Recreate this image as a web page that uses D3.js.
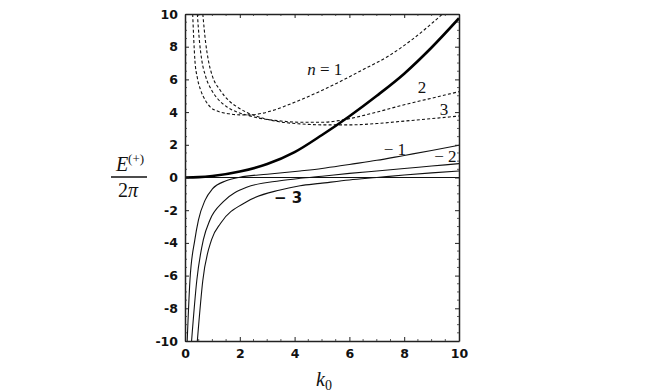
<!DOCTYPE html>
<html>
<head>
<meta charset="utf-8">
<script src="https://cdn.jsdelivr.net/npm/d3@7"></script>
<style>
  body { margin: 0; background: #fff; }
  svg { display: block; }
</style>
</head>
<body>
<div id="chart"></div>
<script>
// axis ticks
const xTicks = [0, 2, 4, 6, 8, 10];
const yTicks = [-10, -8, -6, -4, -2, 0, 2, 4, 6, 8, 10];

// thick curve
const kThick = [0, 0.5, 1, 2, 3, 4, 5, 6, 7, 8, 9, 10];
const eThick = [0, 0.02, 0.09, 0.37, 0.82, 1.55, 2.6, 3.75, 5.0, 6.35, 7.95, 9.74];

// dashed curves n = 1, 2, 3
const kN1 = [0.28, 0.36, 0.45, 0.57, 0.75, 0.91, 1.2, 1.6, 2.0, 2.4, 2.8, 3.2, 4.0, 4.9, 5.7, 6.5, 7.4, 8.3, 9.4];
const eN1 = [10, 7.2, 6.1, 5.35, 4.7, 4.33, 4.05, 3.9, 3.83, 3.83, 3.92, 4.1, 4.6, 5.25, 5.9, 6.6, 7.4, 8.45, 10];
const kN2 = [0.45, 0.53, 0.61, 0.75, 0.97, 1.2, 1.52, 1.9, 2.3, 2.8, 3.4, 4.2, 5.0, 6.0, 7.0, 8.0, 9.0, 10];
const eN2 = [10, 8.3, 7.2, 6.2, 5.35, 4.8, 4.33, 4.0, 3.8, 3.6, 3.47, 3.38, 3.38, 3.6, 4.0, 4.45, 4.85, 5.25];
const kN3 = [0.65, 0.75, 0.85, 1.0, 1.28, 1.6, 1.89, 2.3, 2.8, 3.4, 4.2, 5.0, 6.0, 7.0, 8.0, 9.0, 10];
const eN3 = [10, 8.3, 7.19, 6.2, 5.35, 4.7, 4.33, 3.95, 3.65, 3.42, 3.28, 3.22, 3.22, 3.3, 3.45, 3.6, 3.76];

// solid curves n = -1, -2, -3
const kM1 = [0.08, 0.18, 0.36, 0.49, 0.73, 1.0, 1.5, 2.0, 3.0, 4.2, 5.0, 6.0, 7.0, 8.0, 9.0, 10];
const eM1 = [-10, -6.3, -3.8, -2.6, -1.4, -0.7, -0.2, 0.02, 0.2, 0.4, 0.55, 0.8, 1.05, 1.35, 1.65, 1.97];
const kM2 = [0.24, 0.43, 0.67, 0.91, 1.4, 2.25, 3.47, 4.2, 5.0, 6.0, 7.0, 8.0, 9.0, 10];
const eM2 = [-10, -6.3, -3.8, -2.6, -1.48, -0.6, -0.2, -0.05, 0.08, 0.25, 0.4, 0.55, 0.7, 0.85];
const kM3 = [0.45, 0.65, 0.97, 1.3, 2.25, 3.47, 4.2, 4.93, 6.0, 7.0, 8.0, 9.0, 10];
const eM3 = [-10, -6.3, -3.8, -2.8, -1.48, -0.76, -0.5, -0.36, -0.15, 0.0, 0.15, 0.28, 0.4];

const W = 664, H = 392;
const margin = { left: 185, top: 14, right: 205, bottom: 51 };
const pw = W - margin.left - margin.right;
const ph = H - margin.top - margin.bottom;

const svg = d3.select("#chart").append("svg")
    .attr("width", W)
    .attr("height", H);

const x = d3.scaleLinear().domain([0, 10]).range([margin.left, margin.left + pw]);
const y = d3.scaleLinear().domain([-10, 10]).range([margin.top + ph, margin.top]);

svg.append("defs").append("clipPath")
    .attr("id", "clip")
    .append("rect")
    .attr("x", margin.left)
    .attr("y", margin.top)
    .attr("width", pw)
    .attr("height", ph);

const g = svg.append("g").attr("clip-path", "url(#clip)");

const line = d3.line()
    .x(d => x(d[0]))
    .y(d => y(d[1]))
    .curve(d3.curveMonotoneX);

const zip = (ks, es) => ks.map((k, i) => [k, es[i]]);

// zero line
g.append("path")
    .attr("d", line([[0, 0], [10, 0]]))
    .attr("fill", "none")
    .attr("stroke", "#111")
    .attr("stroke-width", 1);

// solid curves
[[kM1, eM1], [kM2, eM2], [kM3, eM3]].forEach(([ks, es]) => {
    g.append("path")
        .attr("d", line(zip(ks, es)))
        .attr("fill", "none")
        .attr("stroke", "#111")
        .attr("stroke-width", 1.1);
});

// dashed curves
[[kN1, eN1], [kN2, eN2], [kN3, eN3]].forEach(([ks, es]) => {
    g.append("path")
        .attr("d", line(zip(ks, es)))
        .attr("fill", "none")
        .attr("stroke", "#111")
        .attr("stroke-width", 1.1)
        .attr("stroke-dasharray", "3,2.2");
});

// thick curve
g.append("path")
    .attr("d", line(zip(kThick, eThick)))
    .attr("fill", "none")
    .attr("stroke", "#000")
    .attr("stroke-width", 2.6);

// frame with inward ticks
const fmt = d => d < 0 ? "-" + (-d) : String(d);
const axB = d3.axisBottom(x).tickValues(xTicks).tickSizeInner(-4).tickSizeOuter(0).tickPadding(8).tickFormat(fmt);
const axL = d3.axisLeft(y).tickValues(yTicks).tickSizeInner(-4).tickSizeOuter(0).tickPadding(7).tickFormat(fmt);
const axT = d3.axisTop(x).tickValues(xTicks).tickSizeInner(-4).tickSizeOuter(0).tickFormat("");
const axR = d3.axisRight(y).tickValues(yTicks).tickSizeInner(-4).tickSizeOuter(0).tickFormat("");

const minorX = d3.range(0, 10.01, 0.5).filter(v => v % 2 !== 0);
const minorY = d3.range(-10, 10.01, 0.5).filter(v => v % 2 !== 0);

function frame(sel) {
    sel.select(".domain").attr("stroke", "#222").attr("stroke-width", 1.5);
    sel.selectAll(".tick line").attr("stroke", "#222").attr("stroke-width", 1);
    sel.selectAll(".tick text")
        .attr("fill", "#111")
        .style("font-family", "'DejaVu Sans', sans-serif")
        .style("font-weight", "bold")
        .style("font-size", "12.5px");
}

svg.append("g").attr("transform", `translate(0,${margin.top + ph})`).call(axB).call(frame);
svg.append("g").attr("transform", `translate(${margin.left},0)`).call(axL).call(frame);
svg.append("g").attr("transform", `translate(0,${margin.top})`).call(axT).call(frame);
svg.append("g").attr("transform", `translate(${margin.left + pw},0)`).call(axR).call(frame);

// minor ticks
const minor = svg.append("g").attr("stroke", "#333").attr("stroke-width", 0.8);
minorX.forEach(v => {
    minor.append("line").attr("x1", x(v)).attr("x2", x(v)).attr("y1", y(-10)).attr("y2", y(-10) - 2);
    minor.append("line").attr("x1", x(v)).attr("x2", x(v)).attr("y1", y(10)).attr("y2", y(10) + 2);
});
minorY.forEach(v => {
    minor.append("line").attr("x1", x(0)).attr("x2", x(0) + 2).attr("y1", y(v)).attr("y2", y(v));
    minor.append("line").attr("x1", x(10)).attr("x2", x(10) - 2).attr("y1", y(v)).attr("y2", y(v));
});

// curve labels
const serif = "'Liberation Serif', 'DejaVu Serif', serif";
function label(txt, k, v, opts = {}) {
    const t = svg.append("text")
        .attr("x", x(k))
        .attr("y", y(v))
        .attr("text-anchor", "middle")
        .style("font-family", opts.family || serif)
        .style("font-size", (opts.size || 17) + "px")
        .style("font-weight", opts.weight || "normal")
        .attr("fill", "#111");
    return t.text(txt);
}

const n1 = svg.append("text")
    .attr("x", x(5.1))
    .attr("y", y(6.27))
    .attr("text-anchor", "middle")
    .style("font-family", serif)
    .style("font-size", "17px")
    .attr("fill", "#111");
n1.append("tspan").style("font-style", "italic").text("n");
n1.append("tspan").text(" = 1");

label("2", 8.65, 5.17);
label("3", 9.45, 3.82);
label("\u2212 1", 7.66, 1.38);
label("\u2212 2", 9.5, 0.95);
label("\u2212 3", 3.76, -1.56, { family: "'DejaVu Sans', sans-serif", weight: "bold", size: 15 });

// y axis title: E^(+) / 2π
const yl = svg.append("g");
const yt = yl.append("text")
    .attr("x", 130)
    .attr("y", 171)
    .attr("text-anchor", "middle")
    .style("font-family", serif)
    .style("font-size", "20px")
    .attr("fill", "#111");
yt.append("tspan").style("font-style", "italic").text("E");
yt.append("tspan").attr("dy", -8).style("font-size", "13px").text("(+)");
yl.append("line")
    .attr("x1", 111).attr("x2", 147)
    .attr("y1", 177).attr("y2", 177)
    .attr("stroke", "#111").attr("stroke-width", 1.3);
const yb = yl.append("text")
    .attr("x", 128)
    .attr("y", 197)
    .attr("text-anchor", "middle")
    .style("font-family", serif)
    .style("font-size", "20px")
    .attr("fill", "#111");
yb.append("tspan").text("2");
yb.append("tspan").style("font-style", "italic").text("\u03c0");

// x axis title: k_0
const xl = svg.append("text")
    .attr("x", 324)
    .attr("y", 386)
    .attr("text-anchor", "middle")
    .style("font-family", serif)
    .style("font-size", "20px")
    .attr("fill", "#111");
xl.append("tspan").style("font-style", "italic").text("k");
xl.append("tspan").attr("dy", 4).style("font-size", "14px").text("0");
</script>
</body>
</html>
